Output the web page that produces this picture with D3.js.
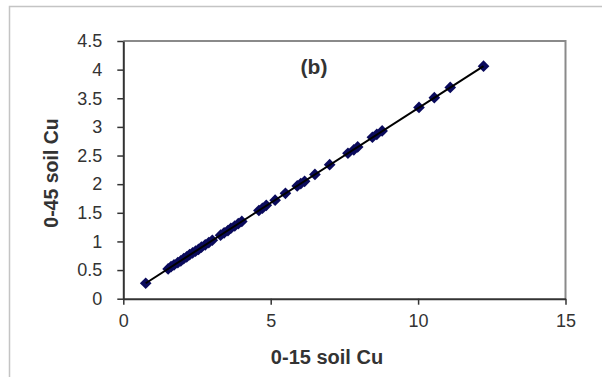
<!DOCTYPE html>
<html>
<head>
<meta charset="utf-8">
<script src="https://cdn.jsdelivr.net/npm/d3@7"></script>
<style>
  body { margin: 0; background: #fff; }
  svg { display: block; font-family: "Liberation Sans", Arial, sans-serif; }
</style>
</head>
<body>
<svg id="chart" width="602" height="377"></svg>
<script>
// 0-15 cm soil Cu vs 0-45 cm soil Cu
const cuTop = [0.76, 1.52, 1.62, 1.72, 1.85, 1.95, 2.05, 2.15, 2.25, 2.35, 2.45, 2.55, 2.65, 2.78, 2.9, 3.02,
  3.3, 3.42, 3.55, 3.65, 3.78, 3.9, 4.02, 4.6, 4.72, 4.85, 5.15, 5.5, 5.9, 6.02, 6.15, 6.5, 7.0,
  7.62, 7.82, 7.95, 8.45, 8.6, 8.78, 10.03, 10.55, 11.09, 12.22];
const cuSub = [0.27, 0.52, 0.56, 0.59, 0.63, 0.66, 0.7, 0.73, 0.77, 0.8, 0.83, 0.86, 0.9, 0.94, 0.98, 1.02,
  1.11, 1.15, 1.19, 1.23, 1.27, 1.31, 1.35, 1.54, 1.58, 1.63, 1.72, 1.84, 1.97, 2.01, 2.05, 2.17, 2.34,
  2.54, 2.6, 2.65, 2.82, 2.87, 2.93, 3.34, 3.51, 3.69, 4.06];
const xTicks = [0, 5, 10, 15];
const yTicks = [0, 0.5, 1, 1.5, 2, 2.5, 3, 3.5, 4, 4.5];
const panelLabel = '(b)';
const xTitle = '0-15 soil Cu';
const yTitle = '0-45 soil Cu';

const points = cuTop.map((x, i) => ({ x, y: cuSub[i] }));

const svg = d3.select('#chart');
const width = 602;
const height = 377;
const margin = { top: 41, right: 36.5, bottom: 78.3, left: 123.3 };

const x = d3.scaleLinear().domain([0, 15]).range([margin.left, width - margin.right]);
const y = d3.scaleLinear().domain([0, 4.5]).range([height - margin.bottom, margin.top]);
const tickFormat = d3.format('~g');

// outer frame (only left and top edges show in the picture)
svg.append('path')
  .attr('d', `M9.5,${height} V6.5 H${width}`)
  .attr('fill', 'none')
  .attr('stroke', '#c4c4c4')
  .attr('stroke-width', 1.5);

// plot area border, top and right
svg.append('path')
  .attr('d', `M${x(0)},${y(4.5)} H${x(15)} V${y(0)}`)
  .attr('fill', 'none')
  .attr('stroke', '#8a8a8a')
  .attr('stroke-width', 2);

const styleTicks = (g) => {
  g.select('.domain').attr('stroke', '#333').attr('stroke-width', 2);
  g.selectAll('.tick line').attr('stroke', '#333').attr('stroke-width', 1.5);
  g.selectAll('.tick text')
    .attr('fill', '#333')
    .attr('font-size', 18)
    .attr('font-family', '"Liberation Sans", Arial, sans-serif');
};

const xAxis = (g) => {
  g.attr('transform', `translate(0,${y(0)})`)
    .call(d3.axisBottom(x).tickValues(xTicks).tickFormat(tickFormat)
      .tickSize(6).tickPadding(10).tickSizeOuter(0))
    .call(styleTicks);
};

const yAxis = (g) => {
  g.attr('transform', `translate(${x(0)},0)`)
    .call(d3.axisLeft(y).tickValues(yTicks).tickFormat(tickFormat)
      .tickSize(6).tickPadding(15).tickSizeOuter(0))
    .call(styleTicks);
};

svg.append('g').call(xAxis);
svg.append('g').call(yAxis);

// markers
svg.append('g')
  .selectAll('path')
  .data(points)
  .join('path')
  .attr('d', d3.symbol().type(d3.symbolSquare).size(68))
  .attr('transform', (d) => `translate(${x(d.x)},${y(d.y)}) rotate(45)`)
  .attr('fill', '#0a0a5c');

// trend line through the points
const sorted = points.slice().sort((a, b) => a.x - b.x);
svg.append('path')
  .datum([sorted[0], sorted[sorted.length - 1]])
  .attr('d', d3.line().x((d) => x(d.x)).y((d) => y(d.y)))
  .attr('fill', 'none')
  .attr('stroke', '#000')
  .attr('stroke-width', 2);

svg.append('text')
  .attr('x', 314)
  .attr('y', 74)
  .attr('text-anchor', 'middle')
  .attr('font-size', 21)
  .attr('font-weight', 'bold')
  .attr('fill', '#333')
  .text(panelLabel);

svg.append('text')
  .attr('x', 327)
  .attr('y', 364)
  .attr('text-anchor', 'middle')
  .attr('font-size', 20)
  .attr('font-weight', 'bold')
  .attr('fill', '#333')
  .text(xTitle);

svg.append('text')
  .attr('transform', 'translate(58,173) rotate(-90)')
  .attr('text-anchor', 'middle')
  .attr('font-size', 19.5)
  .attr('font-weight', 'bold')
  .attr('fill', '#333')
  .text(yTitle);
</script>
</body>
</html>
